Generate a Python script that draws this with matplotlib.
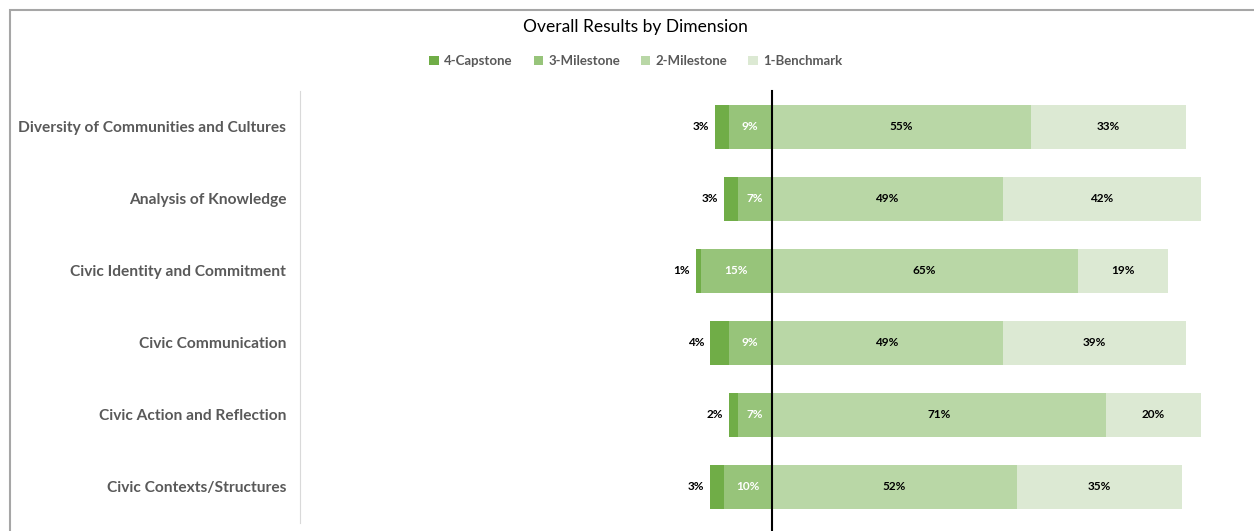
import matplotlib.pyplot as plt
from matplotlib.patches import Rectangle
import numpy as np

plt.rcParams['font.family'] = ['Lato', 'DejaVu Sans']

dimensions = ['Diversity of Communities and Cultures', 'Analysis of Knowledge',
              'Civic Identity and Commitment', 'Civic Communication',
              'Civic Action and Reflection', 'Civic Contexts/Structures']
capstone = [3, 3, 1, 4, 2, 3]
milestone3 = [9, 7, 15, 9, 7, 10]
milestone2 = [55, 49, 65, 49, 71, 52]
benchmark = [33, 42, 19, 39, 20, 35]

series_names = ['4-Capstone', '3-Milestone', '2-Milestone', '1-Benchmark']
colors = ['#70AD47', '#97C47A', '#B9D7A6', '#DCE9D3']

fig = plt.figure(figsize=(12.54, 5.31), dpi=100)
ax = fig.add_axes([300 / 1254, 8 / 531, 943 / 1254, 432 / 531])

# chart frame (cropped at the right/bottom)
fig.patches.append(Rectangle((10 / 1254, -0.1), 1.2, 1 - 10 / 531 + 0.1,
                             transform=fig.transFigure, fill=False,
                             edgecolor='#A6A6A6', linewidth=1.5))

y = np.arange(len(dimensions))
h = 0.62
cap = np.array(capstone)
m3 = np.array(milestone3)
m2 = np.array(milestone2)
bm = np.array(benchmark)

ax.barh(y, -m3, height=h, color=colors[1], label=series_names[1])
ax.barh(y, -cap, left=-m3, height=h, color=colors[0], label=series_names[0])
ax.barh(y, m2, height=h, color=colors[2], label=series_names[2])
ax.barh(y, bm, left=m2, height=h, color=colors[3], label=series_names[3])

lab = dict(fontsize=8.5, fontweight='bold', va='center')
for i in range(len(dimensions)):
    ax.text(-m3[i] - cap[i] - 1.3, y[i], f'{cap[i]}%', ha='right', color='black', **lab)
    ax.text(-m3[i] / 2, y[i], f'{m3[i]}%', ha='center', color='white', **lab)
    ax.text(m2[i] / 2, y[i], f'{m2[i]}%', ha='center', color='black', **lab)
    ax.text(m2[i] + bm[i] / 2, y[i], f'{bm[i]}%', ha='center', color='black', **lab)

ax.set_xlim(-100, 100)
ax.set_ylim(len(dimensions) - 0.5, -0.5)
ax.set_yticks(y)
ax.set_yticklabels(dimensions, fontsize=11.2, fontweight='bold', color='#595959')
ax.tick_params(axis='y', length=0, pad=10)
ax.set_xticks([])
for s in ['top', 'right', 'bottom']:
    ax.spines[s].set_visible(False)
ax.spines['left'].set_color('#D9D9D9')

ax.axvline(0, ymin=-0.03, ymax=1.0, color='black', linewidth=1.5, clip_on=False)

fig.text(0.507, 1 - 27 / 531, 'Overall Results by Dimension', ha='center', va='center',
         fontsize=12.5, color='black')

handles, labels = ax.get_legend_handles_labels()
order = [labels.index(n) for n in series_names]
leg = fig.legend([handles[k] for k in order], [labels[k] for k in order],
                 loc='center', bbox_to_anchor=(0.507, 1 - 61 / 531), ncol=4,
                 frameon=False, handlelength=0.7, handleheight=0.7,
                 handletextpad=0.4, columnspacing=1.6,
                 prop={'size': 9.5, 'weight': 'bold'})
for t in leg.get_texts():
    t.set_color('#595959')

fig.savefig('out.png', dpi=100)
